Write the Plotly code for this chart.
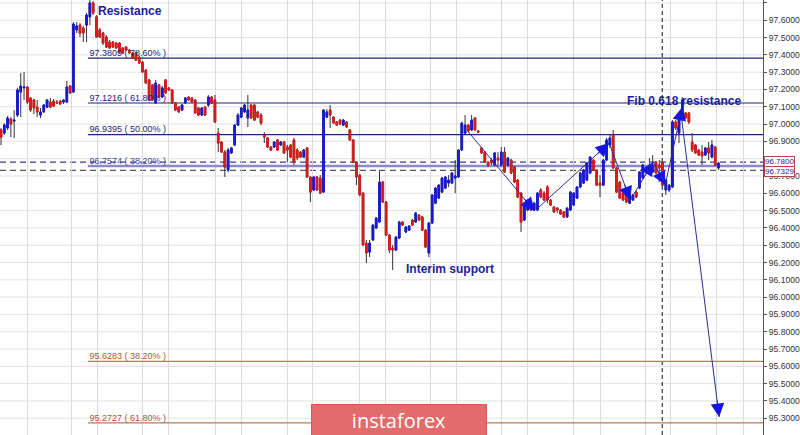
import plotly.graph_objects as go

# ---------------- data (prices) ----------------
opens = [96.966, 96.948, 96.977, 97.029, 97.017, 97.052, 97.185, 97.209, 97.214, 97.151,
         97.139, 97.098, 97.052, 97.070, 97.098, 97.127, 97.133, 97.127, 97.133, 97.127,
         97.127, 97.220, 97.185, 97.544, 97.572, 97.555, 97.572, 97.619, 97.700, 97.619,
         97.544, 97.526, 97.503, 97.474, 97.474, 97.468, 97.468, 97.440, 97.445, 97.428,
         97.411, 97.411, 97.387, 97.358, 97.312, 97.255, 97.226, 97.122, 97.226, 97.156,
         97.255, 97.209, 97.197, 97.122, 97.098, 97.081, 97.122, 97.156, 97.151, 97.139,
         97.093, 97.052, 97.098, 97.110, 97.156, 97.139, 96.948, 96.896, 96.838, 96.734,
         96.833, 96.879, 96.994, 97.040, 97.070, 97.035, 97.110, 97.110, 97.070, 97.052,
         96.937, 96.920, 96.867, 96.867, 96.908, 96.879, 96.896, 96.867, 96.879, 96.908,
         96.850, 96.838, 96.809, 96.862, 96.694, 96.619, 96.694, 96.688, 96.607, 97.040,
         97.081, 97.040, 97.012, 97.023, 96.994, 97.012, 96.966, 96.908, 96.780, 96.705,
         96.601, 96.312, 96.260, 96.330, 96.399, 96.434, 96.665, 96.549, 96.358, 96.283,
         96.272, 96.341, 96.434, 96.376, 96.387, 96.445, 96.434, 96.474, 96.463, 96.387,
         96.255, 96.428, 96.543, 96.572, 96.607, 96.630, 96.659, 96.659, 96.688, 96.694,
         96.850, 96.948, 96.994, 96.966, 97.035, 96.960, 96.862, 96.838, 96.780, 96.792,
         96.763, 96.804, 96.763, 96.838, 96.763, 96.792, 96.751, 96.676, 96.601, 96.445,
         96.503, 96.543, 96.503, 96.503, 96.619, 96.601, 96.636, 96.561, 96.520, 96.514,
         96.503, 96.492, 96.463, 96.503, 96.532, 96.572, 96.636, 96.659, 96.676, 96.717,
         96.792, 96.734, 96.659, 96.647, 96.792, 96.879, 96.937, 96.746, 96.665, 96.601,
         96.590, 96.543, 96.561, 96.607, 96.630, 96.688, 96.723, 96.734, 96.723, 96.780,
         96.763, 96.780, 96.619, 96.619, 96.636, 97.012, 96.948, 97.064, 97.064, 97.064,
         96.896, 96.879, 96.850, 96.838, 96.821, 96.862, 96.809, 96.867, 96.746]

closes = [96.925, 96.994, 97.035, 97.000, 97.023, 97.197, 97.220, 97.214, 97.127, 97.081,
          97.093, 97.070, 97.070, 97.110, 97.139, 97.098, 97.104, 97.122, 97.116, 97.139,
          97.214, 97.180, 97.578, 97.567, 97.526, 97.526, 97.630, 97.700, 97.642, 97.503,
          97.503, 97.468, 97.445, 97.440, 97.445, 97.440, 97.416, 97.411, 97.428, 97.411,
          97.382, 97.370, 97.353, 97.301, 97.237, 97.139, 97.139, 97.237, 97.156, 97.209,
          97.180, 97.197, 97.122, 97.081, 97.070, 97.110, 97.151, 97.139, 97.127, 97.064,
          97.052, 97.093, 97.052, 97.156, 97.122, 97.012, 96.890, 96.838, 96.751, 96.850,
          96.862, 96.994, 97.052, 97.093, 97.110, 97.081, 97.035, 97.023, 97.040, 97.006,
          96.925, 96.867, 96.850, 96.896, 96.850, 96.896, 96.833, 96.850, 96.809, 96.780,
          96.804, 96.809, 96.850, 96.694, 96.607, 96.694, 96.619, 96.601, 97.081, 97.070,
          97.052, 97.006, 96.994, 97.000, 97.023, 96.983, 96.908, 96.780, 96.694, 96.590,
          96.301, 96.255, 96.312, 96.416, 96.457, 96.665, 96.549, 96.358, 96.272, 96.272,
          96.347, 96.434, 96.416, 96.405, 96.411, 96.416, 96.486, 96.445, 96.387, 96.289,
          96.428, 96.590, 96.630, 96.647, 96.688, 96.694, 96.676, 96.717, 96.700, 96.850,
          97.006, 96.994, 96.960, 97.023, 96.966, 96.954, 96.833, 96.780, 96.763, 96.775,
          96.833, 96.792, 96.838, 96.723, 96.804, 96.717, 96.665, 96.578, 96.434, 96.543,
          96.561, 96.503, 96.543, 96.601, 96.578, 96.561, 96.561, 96.532, 96.492, 96.503,
          96.480, 96.463, 96.514, 96.607, 96.601, 96.636, 96.717, 96.734, 96.775, 96.809,
          96.734, 96.647, 96.647, 96.792, 96.908, 96.920, 96.746, 96.607, 96.572, 96.561,
          96.549, 96.601, 96.590, 96.578, 96.723, 96.763, 96.746, 96.746, 96.763, 96.717,
          96.746, 96.647, 96.676, 96.647, 97.012, 96.977, 97.040, 97.139, 97.035, 97.012,
          96.850, 96.833, 96.821, 96.815, 96.862, 96.833, 96.879, 96.763, 96.775]

highs = [96.977, 97.006, 97.046, 97.040, 97.081, 97.209, 97.295, 97.301, 97.220, 97.156,
         97.145, 97.139, 97.093, 97.116, 97.145, 97.151, 97.145, 97.139, 97.139, 97.145,
         97.249, 97.226, 97.589, 97.589, 97.584, 97.567, 97.642, 97.717, 97.711, 97.630,
         97.555, 97.532, 97.515, 97.486, 97.480, 97.474, 97.474, 97.445, 97.451, 97.434,
         97.416, 97.416, 97.393, 97.364, 97.318, 97.261, 97.232, 97.255, 97.232, 97.220,
         97.261, 97.214, 97.203, 97.127, 97.104, 97.116, 97.156, 97.162, 97.156, 97.145,
         97.098, 97.098, 97.104, 97.168, 97.162, 97.168, 96.977, 96.902, 96.850, 96.862,
         96.867, 97.000, 97.064, 97.098, 97.116, 97.168, 97.116, 97.116, 97.075, 97.064,
         96.954, 96.925, 96.873, 96.902, 96.914, 96.902, 96.902, 96.879, 96.885, 96.920,
         96.862, 96.844, 96.856, 96.867, 96.700, 96.700, 96.700, 96.705, 97.087, 97.087,
         97.110, 97.046, 97.017, 97.029, 97.029, 97.017, 96.971, 96.914, 96.786, 96.711,
         96.607, 96.330, 96.330, 96.422, 96.463, 96.734, 96.671, 96.555, 96.364, 96.301,
         96.353, 96.440, 96.440, 96.411, 96.416, 96.451, 96.492, 96.480, 96.469, 96.393,
         96.434, 96.596, 96.636, 96.653, 96.694, 96.700, 96.705, 96.723, 96.792, 96.856,
         97.012, 97.052, 97.000, 97.052, 97.040, 96.966, 96.867, 96.844, 96.786, 96.804,
         96.838, 96.838, 96.867, 96.867, 96.809, 96.798, 96.757, 96.682, 96.607, 96.549,
         96.567, 96.549, 96.549, 96.607, 96.630, 96.613, 96.647, 96.567, 96.526, 96.520,
         96.509, 96.497, 96.520, 96.613, 96.607, 96.642, 96.723, 96.740, 96.780, 96.815,
         96.798, 96.740, 96.705, 96.798, 96.920, 96.937, 96.966, 96.751, 96.671, 96.607,
         96.596, 96.607, 96.596, 96.613, 96.728, 96.769, 96.751, 96.804, 96.821, 96.786,
         96.792, 96.786, 96.682, 96.653, 97.023, 97.023, 97.064, 97.156, 97.070, 97.070,
         96.948, 96.885, 96.856, 96.879, 96.867, 96.896, 96.908, 96.873, 96.780]

lows = [96.879, 96.937, 96.966, 96.925, 96.920, 97.040, 97.040, 97.139, 97.116, 97.070,
        97.058, 97.040, 97.035, 97.064, 97.093, 97.093, 97.098, 97.116, 97.110, 97.116,
        97.122, 97.174, 97.180, 97.526, 97.503, 97.474, 97.474, 97.572, 97.630, 97.497,
        97.497, 97.457, 97.440, 97.434, 97.440, 97.434, 97.411, 97.405, 97.422, 97.405,
        97.376, 97.364, 97.347, 97.295, 97.232, 97.133, 97.133, 97.116, 97.151, 97.151,
        97.174, 97.191, 97.116, 97.075, 97.064, 97.075, 97.116, 97.133, 97.122, 97.058,
        97.046, 97.046, 97.046, 97.098, 97.116, 97.006, 96.838, 96.833, 96.694, 96.722,
        96.827, 96.873, 96.989, 97.035, 97.064, 96.983, 97.029, 97.017, 97.035, 96.994,
        96.890, 96.862, 96.844, 96.862, 96.844, 96.873, 96.827, 96.780, 96.804, 96.763,
        96.792, 96.804, 96.804, 96.688, 96.549, 96.613, 96.613, 96.596, 96.601, 97.035,
        96.977, 97.000, 96.989, 96.994, 96.989, 96.977, 96.902, 96.775, 96.647, 96.584,
        96.295, 96.197, 96.231, 96.324, 96.393, 96.428, 96.543, 96.353, 96.255, 96.156,
        96.266, 96.335, 96.411, 96.370, 96.382, 96.411, 96.428, 96.440, 96.382, 96.283,
        96.231, 96.422, 96.538, 96.567, 96.601, 96.624, 96.636, 96.653, 96.601, 96.688,
        96.844, 96.943, 96.954, 96.960, 96.960, 96.948, 96.827, 96.775, 96.751, 96.763,
        96.757, 96.763, 96.757, 96.717, 96.757, 96.711, 96.659, 96.572, 96.376, 96.440,
        96.497, 96.497, 96.497, 96.497, 96.572, 96.555, 96.543, 96.526, 96.486, 96.486,
        96.474, 96.457, 96.457, 96.497, 96.526, 96.567, 96.630, 96.653, 96.671, 96.711,
        96.728, 96.642, 96.578, 96.642, 96.786, 96.862, 96.740, 96.601, 96.567, 96.555,
        96.543, 96.538, 96.555, 96.572, 96.624, 96.682, 96.717, 96.705, 96.717, 96.711,
        96.665, 96.642, 96.590, 96.607, 96.630, 96.966, 96.890, 97.058, 97.029, 97.000,
        96.838, 96.827, 96.815, 96.763, 96.815, 96.792, 96.804, 96.757, 96.734]

bars = list(range(len(opens)))

# Fibonacci levels
fib_levels = [97.3809, 97.1216, 96.9395, 96.7574, 95.6283, 95.2727]
fib_labels = ["97.3809 ( 78.60% )", "97.1216 ( 61.80% )", "96.9395 ( 50.00% )",
              "96.7574 ( 38.20% )", "95.6283 ( 38.20% )", "95.2727 ( 61.80% )"]
fib_start = 26.4

current_price = 96.7800
bid_price = 96.7329
session_bar = 200.9

# price axis ticks (96.8000 is hidden behind the price box in the reference)
tick_prices = [95.3, 95.4, 95.5, 95.6, 95.7, 95.8, 95.9, 96.0, 96.1, 96.2, 96.3, 96.4,
               96.5, 96.6, 96.7, 96.9, 97.0, 97.1, 97.2, 97.3, 97.4, 97.5, 97.6, 97.7]
grid_prices = [95.3, 95.4, 95.5, 95.6, 95.7, 95.8, 95.9, 96.0, 96.1, 96.2, 96.3, 96.4,
               96.5, 96.6, 96.7, 96.8, 96.9, 97.0, 97.1, 97.2, 97.3, 97.4, 97.5, 97.6, 97.7]

# vertical grid positions (bar index)
grid_bars = [7.9, 21.5, 29.4, 43.0, 50.9, 65.2, 73.0, 87.0, 94.5, 108.8, 116.7,
             130.6, 138.5, 152.1, 160.0, 173.9, 182.1, 195.8, 203.3, 217.3, 225.5]

# zig-zag path of the arrows (bar index, price)
path_bars = [141.5, 162.1, 184.8, 191.2, 198.2, 201.8, 207.0]
path_prices = [96.966, 96.497, 96.890, 96.561, 96.781, 96.648, 97.099]
target_from = (206.7, 97.046)
target_to = (218.2, 95.307)

# ---------------- figure ----------------
XR = [-0.303, 231.52]
YR = [95.203, 97.717]
PW, PH = 765, 435

NAVY = "#22227a"
BROWN = "#c07a50"

fig = go.Figure()

# fib labels (under candles)
fig.add_trace(go.Scatter(
    x=[fib_start + 0.5] * len(fib_levels), y=fib_levels, mode="text",
    text=fib_labels, textposition="top right",
    textfont=dict(size=9, family="Liberation Sans, Arial",
                  color=[NAVY, NAVY, NAVY, "#4a4aa0", "#a85a30", "#a85a30"]),
    hoverinfo="skip", showlegend=False))

# wicks
fig.add_trace(go.Candlestick(
    x=bars, open=opens, high=highs, low=lows, close=closes,
    increasing=dict(line=dict(color="#333333", width=1), fillcolor="#333333"),
    decreasing=dict(line=dict(color="#333333", width=1), fillcolor="#333333"),
    whiskerwidth=0, showlegend=False, hoverinfo="skip"))

# bodies
body_hi = [max(o, c) for o, c in zip(opens, closes)]
body_lo = [min(o, c) for o, c in zip(opens, closes)]
fig.add_trace(go.Candlestick(
    x=bars, open=opens, high=body_hi, low=body_lo, close=closes,
    increasing=dict(line=dict(color="#1a1ad8", width=1), fillcolor="#1a1ad8"),
    decreasing=dict(line=dict(color="#e01a1a", width=1), fillcolor="#e01a1a"),
    whiskerwidth=0, showlegend=False, hoverinfo="skip"))

shapes = []
# horizontal grid lines (every 0.1)
for gp in grid_prices:
    shapes.append(dict(type="line", xref="paper", yref="y", x0=0, x1=1, y0=gp, y1=gp,
                       line=dict(color="#e2e2e2", width=1), layer="below"))
fib_line_colors = [NAVY, NAVY, NAVY, "#8a8ac8", BROWN, BROWN]
fib_line_widths = [1.2, 1.2, 1.2, 2.5, 1.2, 1.2]
for lv, col, w in zip(fib_levels, fib_line_colors, fib_line_widths):
    shapes.append(dict(type="line", xref="x", yref="y", x0=fib_start, x1=XR[1],
                       y0=lv, y1=lv, line=dict(color=col, width=w), layer="between"))
shapes.append(dict(type="line", xref="paper", yref="y", x0=0, x1=1,
                   y0=current_price, y1=current_price,
                   line=dict(color="#3a3a90", width=1.2, dash="6px,4px"), layer="between"))
shapes.append(dict(type="line", xref="paper", yref="y", x0=0, x1=1,
                   y0=bid_price, y1=bid_price,
                   line=dict(color="#555555", width=1.2, dash="6px,4px"), layer="between"))
shapes.append(dict(type="line", xref="x", yref="paper", x0=session_bar, x1=session_bar,
                   y0=0, y1=1, line=dict(color="#111111", width=1, dash="4px,3px"),
                   layer="between"))

annotations = []


def to_px(xv, yv):
    return ((xv - XR[0]) / (XR[1] - XR[0]) * PW, (YR[1] - yv) / (YR[1] - YR[0]) * PH)


segments = [(path_bars[k], path_prices[k], path_bars[k + 1], path_prices[k + 1])
            for k in range(len(path_bars) - 1)]
segments.append((target_from[0], target_from[1], target_to[0], target_to[1]))
for x0, y0, x1, y1 in segments:
    annotations.append(dict(x=x1, y=y1, ax=x0, ay=y0, xref="x", yref="y",
                            axref="x", ayref="y", text="", showarrow=True,
                            arrowhead=0, arrowwidth=1, arrowcolor="#2c2c90"))
    p0 = to_px(x0, y0)
    p1 = to_px(x1, y1)
    dx, dy = p1[0] - p0[0], p1[1] - p0[1]
    ln = (dx * dx + dy * dy) ** 0.5
    annotations.append(dict(x=x1, y=y1, ax=-dx / ln * 18, ay=-dy / ln * 18,
                            xref="x", yref="y", text="", showarrow=True,
                            arrowhead=2, arrowsize=2.7, arrowwidth=1,
                            arrowcolor="#1616e0"))

TXT = "#1c1c9c"
annotations.append(dict(x=39.1, y=97.654, xref="x", yref="y", text="<b>Resistance</b>",
                        showarrow=False, font=dict(size=12, color=TXT, family="Liberation Sans, Arial")))
annotations.append(dict(x=207.6, y=97.133, xref="x", yref="y", text="<b>Fib 0.618 resistance</b>",
                        showarrow=False, font=dict(size=12, color=TXT, family="Liberation Sans, Arial")))
annotations.append(dict(x=136.4, y=96.162, xref="x", yref="y", text="<b>Interim support</b>",
                        showarrow=False, font=dict(size=12, color=TXT, family="Liberation Sans, Arial")))

for pv, yshift in [(current_price, 1), (bid_price, -1)]:
    annotations.append(dict(x=1, y=pv, xref="paper", yref="y", xanchor="left", xshift=1,
                            yshift=yshift, text="%.4f" % pv, showarrow=False,
                            font=dict(size=8, color="#1c1c8c", family="Liberation Sans, Arial"),
                            bgcolor="white", bordercolor="#b04848", borderwidth=1, borderpad=0))

# watermark
annotations.append(dict(x=400 / PW, y=(PH - 420) / PH, xref="paper", yref="paper",
                        xanchor="center", yanchor="middle",
                        text="instaforex", showarrow=False, width=174, height=30,
                        align="center", valign="middle",
                        bgcolor="#e36b6b", bordercolor="#d25a5a", borderwidth=1, borderpad=0,
                        font=dict(size=20, color="#ffffff", family="Open Sans, Liberation Sans")))

fig.update_layout(
    width=800, height=435,
    margin=dict(l=0, r=35, t=0, b=0),
    paper_bgcolor="white", plot_bgcolor="white",
    showlegend=False,
    shapes=shapes, annotations=annotations,
    xaxis=dict(range=XR, tickvals=grid_bars, showticklabels=False, ticks="",
               showgrid=True, gridcolor="#dadada", gridwidth=1, zeroline=False,
               showline=False, rangeslider=dict(visible=False), fixedrange=True),
    yaxis=dict(range=YR, side="right", tickvals=tick_prices, tickformat=".4f",
               showgrid=False, zeroline=False,
               showline=True, linecolor="#555555", linewidth=1,
               ticks="outside", ticklen=3, tickcolor="#555555",
               tickfont=dict(size=8.6, color="#333333", family="Liberation Sans, Arial"),
               fixedrange=True),
)

fig.write_html("out.html", config={"displayModeBar": False},
               post_script="document.body.style.margin='0';")
